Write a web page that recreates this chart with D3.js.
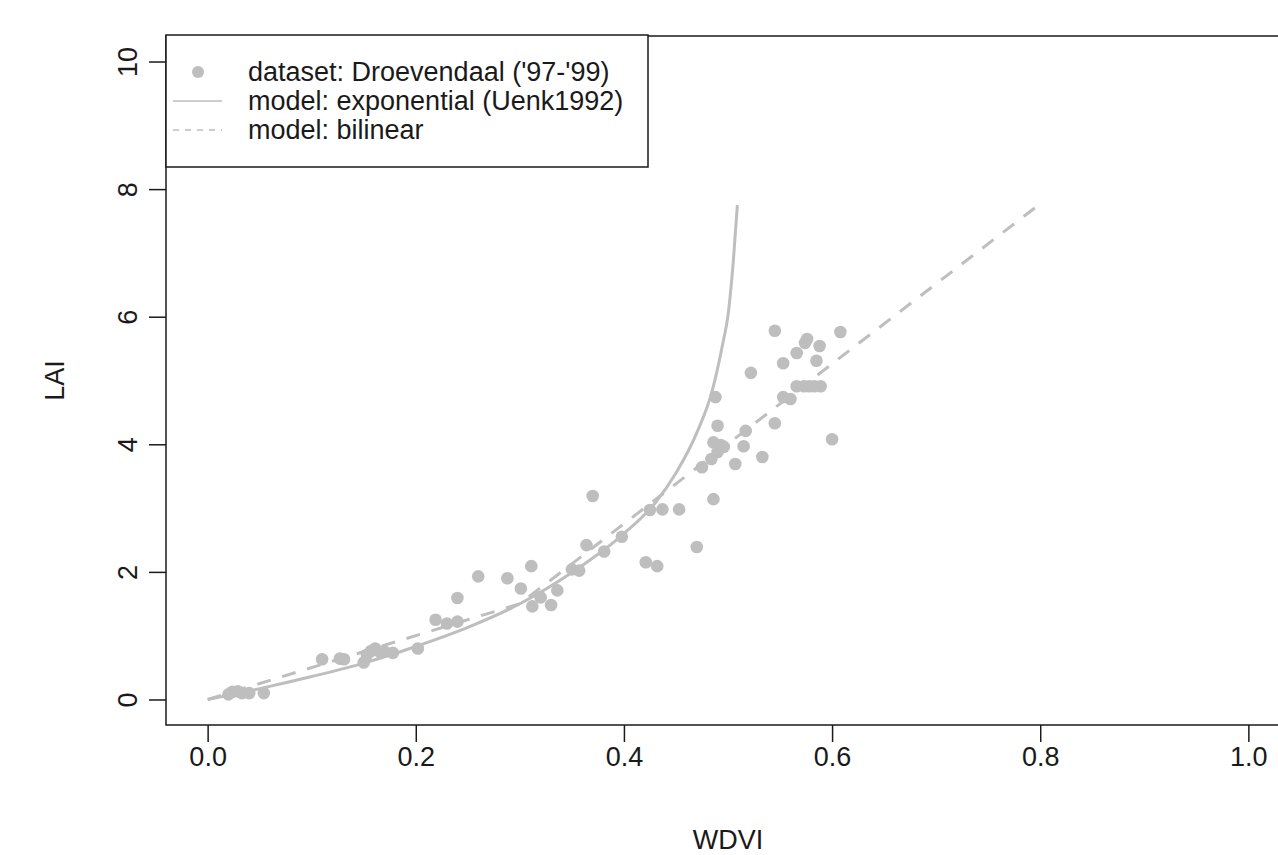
<!DOCTYPE html>
<html>
<head>
<meta charset="utf-8">
<script src="https://cdn.jsdelivr.net/npm/d3@7"></script>
<style>
  html, body { margin: 0; padding: 0; background: #fff; }
  svg { display: block; font-family: "Liberation Sans", Arial, sans-serif; }
</style>
</head>
<body>
<div id="chart"></div>
<script>
// ── Data ──────────────────────────────────────────────────────────────────────
// measured points (WDVI, LAI)
const obsWDVI = [
  0.020, 0.024, 0.029, 0.033, 0.040, 0.054, 0.110, 0.127, 0.131, 0.150,
  0.153, 0.157, 0.161, 0.166, 0.170, 0.178, 0.202, 0.219, 0.230, 0.240,
  0.240, 0.260, 0.288, 0.301, 0.311, 0.312, 0.320, 0.330, 0.336, 0.350,
  0.357, 0.364, 0.370, 0.381, 0.398, 0.421, 0.425, 0.432, 0.437, 0.453,
  0.470, 0.475, 0.484, 0.486, 0.486, 0.488, 0.490, 0.490, 0.493, 0.496,
  0.507, 0.515, 0.517, 0.522, 0.533, 0.545, 0.545, 0.553, 0.553, 0.560,
  0.566, 0.566, 0.573, 0.574, 0.576, 0.578, 0.583, 0.585, 0.588, 0.589,
  0.600, 0.608
];
const obsLAI = [
  0.08, 0.12, 0.13, 0.10, 0.10, 0.10, 0.63, 0.64, 0.63, 0.58,
  0.70, 0.76, 0.80, 0.74, 0.75, 0.73, 0.80, 1.25, 1.19, 1.22,
  1.59, 1.93, 1.90, 1.74, 2.09, 1.46, 1.60, 1.48, 1.71, 2.04,
  2.02, 2.42, 3.19, 2.32, 2.55, 2.15, 2.97, 2.09, 2.98, 2.98,
  2.39, 3.64, 3.77, 3.14, 4.03, 4.74, 4.29, 3.88, 3.99, 3.96,
  3.69, 3.97, 4.21, 5.12, 3.80, 5.78, 4.33, 5.27, 4.74, 4.71,
  5.43, 4.91, 4.91, 5.59, 5.65, 4.91, 4.91, 5.31, 5.54, 4.91,
  4.08, 5.76
];

// exponential model (Uenk1992)
const expWDVI = [0, 0.05, 0.10, 0.15, 0.20, 0.25, 0.30, 0.35, 0.40, 0.43, 0.45, 0.47, 0.485, 0.495, 0.50, 0.505, 0.509];
const expLAI  = [0, 0.17, 0.36, 0.57, 0.83, 1.13, 1.50, 1.99, 2.60, 3.08, 3.55, 4.18, 4.85, 5.58, 6.02, 6.85, 7.75];

// bilinear model
const binWDVI = [0, 0.30, 0.80];
const binLAI  = [0, 1.50, 7.77];

const xTicks = [0, 0.2, 0.4, 0.6, 0.8, 1.0];
const yTicks = [0, 2, 4, 6, 8, 10];

const legendLabels = [
  "dataset: Droevendaal ('97-'99)",
  'model: exponential (Uenk1992)',
  'model: bilinear'
];

// ── Dimensions ────────────────────────────────────────────────────────────────
const W = 1278, H = 855;
const box = { left: 166, right: 1290, top: 36, bottom: 725 };
const grey = '#bebebe';
const ink = '#1a1a1a';
const fontSize = 27;

const xScale = d3.scaleLinear().domain([-0.04, 1.04]).range([box.left, box.right]);
const yScale = d3.scaleLinear().domain([-0.4, 10.4]).range([box.bottom, box.top]);

const svg = d3.select('#chart')
  .append('svg')
  .attr('width', W)
  .attr('height', H);

const plot = svg.append('g');

// ── Model lines ───────────────────────────────────────────────────────────────
const expData = expWDVI.map((x, i) => ({ x, y: expLAI[i] }));
const binData = binWDVI.map((x, i) => ({ x, y: binLAI[i] }));

plot.append('path')
  .datum(binData)
  .attr('fill', 'none')
  .attr('stroke', grey)
  .attr('stroke-width', 3)
  .attr('stroke-dasharray', '14,12')
  .attr('d', d3.line().x(d => xScale(d.x)).y(d => yScale(d.y)));

plot.append('path')
  .datum(expData)
  .attr('fill', 'none')
  .attr('stroke', grey)
  .attr('stroke-width', 3)
  .attr('d', d3.line().x(d => xScale(d.x)).y(d => yScale(d.y)).curve(d3.curveMonotoneX));

// ── Points ────────────────────────────────────────────────────────────────────
plot.selectAll('circle.obs')
  .data(obsWDVI.map((x, i) => ({ x, y: obsLAI[i] })))
  .join('circle')
  .attr('class', 'obs')
  .attr('cx', d => xScale(d.x))
  .attr('cy', d => yScale(d.y))
  .attr('r', 6.3)
  .attr('fill', grey);

// ── Box and axes ──────────────────────────────────────────────────────────────
svg.append('rect')
  .attr('x', box.left).attr('y', box.top)
  .attr('width', box.right - box.left).attr('height', box.bottom - box.top)
  .attr('fill', 'none').attr('stroke', ink).attr('stroke-width', 1.5);

svg.append('g')
  .attr('transform', `translate(0,${box.bottom})`)
  .call(d3.axisBottom(xScale).tickValues(xTicks).tickSize(17).tickPadding(5).tickFormat(d3.format('.1f')))
  .call(ax => ax.select('.domain').remove())
  .call(ax => ax.selectAll('line').attr('stroke', ink).attr('stroke-width', 1.5))
  .call(ax => ax.selectAll('text').attr('fill', ink).attr('font-family', null).style('font-size', fontSize + 'px'));

const yAxis = svg.append('g')
  .attr('transform', `translate(${box.left},0)`)
  .call(d3.axisLeft(yScale).tickValues(yTicks).tickSize(17).tickFormat(d3.format('d')))
  .call(ax => ax.select('.domain').remove())
  .call(ax => ax.selectAll('line').attr('stroke', ink).attr('stroke-width', 1.5));

// R draws y tick labels parallel to the axis
yAxis.selectAll('text')
  .attr('x', null).attr('dy', null)
  .attr('transform', 'translate(-38,0) rotate(-90)')
  .attr('text-anchor', 'middle')
  .attr('dominant-baseline', 'central')
  .attr('fill', ink)
  .attr('font-family', null)
  .style('font-size', fontSize + 'px');

// axis titles
svg.append('text')
  .attr('x', (box.left + box.right) / 2)
  .attr('y', 840)
  .attr('text-anchor', 'middle')
  .attr('dominant-baseline', 'central')
  .attr('fill', ink)
  .style('font-size', fontSize + 'px')
  .text('WDVI');

svg.append('text')
  .attr('transform', `translate(55,${(box.top + box.bottom) / 2}) rotate(-90)`)
  .attr('text-anchor', 'middle')
  .attr('dominant-baseline', 'central')
  .attr('fill', ink)
  .style('font-size', fontSize + 'px')
  .text('LAI');

// ── Legend ────────────────────────────────────────────────────────────────────
const legend = svg.append('g');
legend.append('rect')
  .attr('x', box.left).attr('y', box.top - 1)
  .attr('width', 482).attr('height', 132)
  .attr('fill', '#fff').attr('stroke', ink).attr('stroke-width', 1.5);

const rowY = i => 72 + i * 29;

legend.append('circle')
  .attr('cx', 198).attr('cy', rowY(0)).attr('r', 6).attr('fill', grey);
legend.append('line')
  .attr('x1', 173).attr('x2', 222).attr('y1', rowY(1)).attr('y2', rowY(1))
  .attr('stroke', grey).attr('stroke-width', 1.3);
legend.append('line')
  .attr('x1', 173).attr('x2', 222).attr('y1', rowY(2)).attr('y2', rowY(2))
  .attr('stroke', grey).attr('stroke-width', 1.3).attr('stroke-dasharray', '6,6');

legend.selectAll('text')
  .data(legendLabels)
  .join('text')
  .attr('x', 248)
  .attr('y', (d, i) => rowY(i))
  .attr('dominant-baseline', 'central')
  .attr('fill', ink)
  .style('font-size', fontSize + 'px')
  .text(d => d);
</script>
</body>
</html>
